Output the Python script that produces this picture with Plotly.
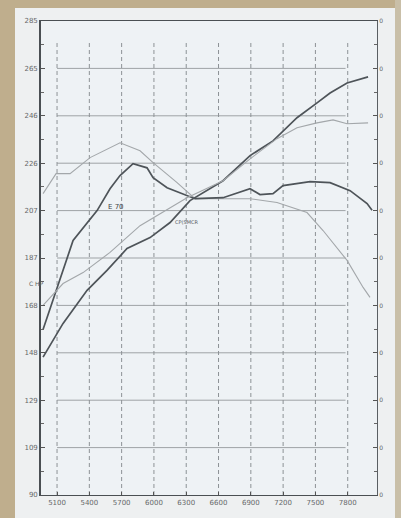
import plotly.graph_objects as go

# ---- data read from the dyno sheet ----
rpm_hp_mod = [4970, 5156, 5379, 5564, 5750, 5964, 6150, 6335, 6642, 6893, 7106, 7329, 7515, 7636, 7794, 7989]
hp_mod = [146.7, 160.6, 174.2, 182.4, 191.4, 195.9, 202.1, 211.1, 219.3, 229.6, 235.7, 245.2, 251.3, 255.4, 259.5, 262.0]

rpm_hp_stock = [4970, 5156, 5342, 5592, 5871, 6307, 6642, 6893, 7143, 7329, 7515, 7664, 7794, 7989]
hp_stock = [168.0, 177.0, 181.5, 189.8, 200.8, 212.3, 219.3, 228.3, 236.6, 241.1, 243.1, 244.3, 242.7, 243.1]

rpm_tq_mod = [4970, 5109, 5249, 5472, 5592, 5685, 5806, 5936, 5992, 6122, 6382, 6642, 6893, 6985, 7106, 7199, 7450, 7636, 7822, 7980, 8026]
tq_mod = [158.1, 176.2, 194.7, 207.0, 216.0, 221.4, 226.3, 224.6, 220.5, 216.4, 211.9, 212.3, 216.0, 213.6, 214.0, 217.3, 218.9, 218.5, 215.2, 209.9, 207.1]

rpm_tq_stock = [4970, 5091, 5221, 5407, 5685, 5871, 5992, 6215, 6382, 6614, 6893, 7143, 7422, 7571, 7794, 7943, 8007]
tq_stock = [214.0, 222.2, 222.2, 228.8, 234.9, 231.6, 226.7, 218.5, 211.9, 211.9, 211.9, 210.3, 206.2, 198.8, 186.5, 175.4, 171.3]

x_ticks = [5100, 5400, 5700, 6000, 6300, 6600, 6900, 7200, 7500, 7800]
y_ticks = [90, 109.5, 129, 148.5, 168, 187.5, 207, 226.5, 246, 265.5, 285]
y_labels = ["90", "109", "129", "148", "168", "187", "207", "226", "246", "265", "285"]
right_labels = ["0"] * len(y_ticks)

X_RANGE = [4951, 8072]
Y_RANGE = [90, 285]

DARK = "#4e5459"
LIGHT = "#a3a7aa"
GRID = "#9ea3a6"
TAN = "#bfae8d"

fig = go.Figure()
fig.add_trace(go.Scatter(x=rpm_tq_stock, y=tq_stock, mode="lines",
                         line=dict(color=LIGHT, width=1.1), hoverinfo="skip"))
fig.add_trace(go.Scatter(x=rpm_hp_stock, y=hp_stock, mode="lines",
                         line=dict(color=LIGHT, width=1.1), hoverinfo="skip", yaxis="y2"))
fig.add_trace(go.Scatter(x=rpm_tq_mod, y=tq_mod, mode="lines",
                         line=dict(color=DARK, width=1.7), hoverinfo="skip"))
fig.add_trace(go.Scatter(x=rpm_hp_mod, y=hp_mod, mode="lines",
                         line=dict(color=DARK, width=1.7), hoverinfo="skip"))

shapes = []
# horizontal grid lines (do not reach the frame)
for v in y_ticks[1:-1]:
    shapes.append(dict(type="line", xref="x", yref="y", x0=x_ticks[0], x1=7780,
                       y0=v, y1=v, line=dict(color=GRID, width=1), layer="below"))
# vertical dashed grid lines
for v in x_ticks:
    shapes.append(dict(type="line", xref="x", yref="y", x0=v, x1=v, y0=Y_RANGE[0], y1=276,
                       line=dict(color="#8d9296", width=1, dash="4px,3px"), layer="below"))
# tan photo border strips (paper coords, outside plot area)
L, R, T, B = 41, 24, 21, 23
W, H = 401 - L - R, 518 - T - B
def px(xp):
    return (xp - L) / W
def py(yp):
    return (518 - B - yp) / H
shapes += [
    dict(type="rect", xref="paper", yref="paper", x0=px(0), x1=px(15), y0=py(518), y1=py(0),
         fillcolor=TAN, line=dict(width=0), layer="below"),
    dict(type="rect", xref="paper", yref="paper", x0=px(0), x1=px(401), y0=py(8), y1=py(0),
         fillcolor=TAN, line=dict(width=0), layer="below"),
    dict(type="rect", xref="paper", yref="paper", x0=px(395), x1=px(401), y0=py(518), y1=py(0),
         fillcolor="#c9bfa8", line=dict(width=0), layer="below"),
]

annotations = [
    dict(x=5648, y=208.5, xref="x", yref="y", text="E 70", showarrow=False,
         font=dict(size=7, color="#3d4246", family="DejaVu Sans")),
    dict(x=6298, y=202.5, xref="x", yref="y", text="CP(SMCR", showarrow=False,
         font=dict(size=5, color="#55595d", family="DejaVu Sans")),
    dict(x=px(27), y=py(283), xref="paper", yref="paper", text="C HP", showarrow=False,
         font=dict(size=6, color="#5d5f61", family="DejaVu Sans")),
]

tickfont = dict(size=7, color="#66686a", family="DejaVu Sans")
fig.update_layout(
    width=401, height=518,
    margin=dict(l=L, r=R, t=T, b=B),
    paper_bgcolor="#eef0f1",
    plot_bgcolor="#eef2f5",
    showlegend=False,
    shapes=shapes,
    annotations=annotations,
    xaxis=dict(range=X_RANGE, tickvals=x_ticks, ticktext=[str(v) for v in x_ticks],
               ticks="inside", ticklen=3, tickcolor="#555", showgrid=False, zeroline=False,
               showline=True, linecolor="#4a4f53", linewidth=1.2, mirror=True,
               tickfont=tickfont),
    yaxis=dict(range=Y_RANGE, tickvals=y_ticks, ticktext=y_labels, ticks="inside",
               ticklen=4, tickcolor="#555", showgrid=False, zeroline=False,
               showline=True, linecolor="#4a4f53", linewidth=1.6, tickfont=tickfont,
               minor=dict(ticks="inside", ticklen=3, tickcolor="#666", dtick=9.75, tick0=90)),
    yaxis2=dict(range=Y_RANGE, overlaying="y", side="right", tickvals=y_ticks,
                ticktext=right_labels, ticks="inside", ticklen=4, tickcolor="#555",
                showgrid=False, zeroline=False, showline=True, linecolor="#5a5f63",
                linewidth=1.2, tickfont=dict(size=6, color="#66686a", family="DejaVu Sans"),
                minor=dict(ticks="inside", ticklen=3, tickcolor="#666", dtick=9.75, tick0=90)),
)

fig.write_html("out.html", config={"displayModeBar": False},
               post_script="document.body.style.margin='0';")
